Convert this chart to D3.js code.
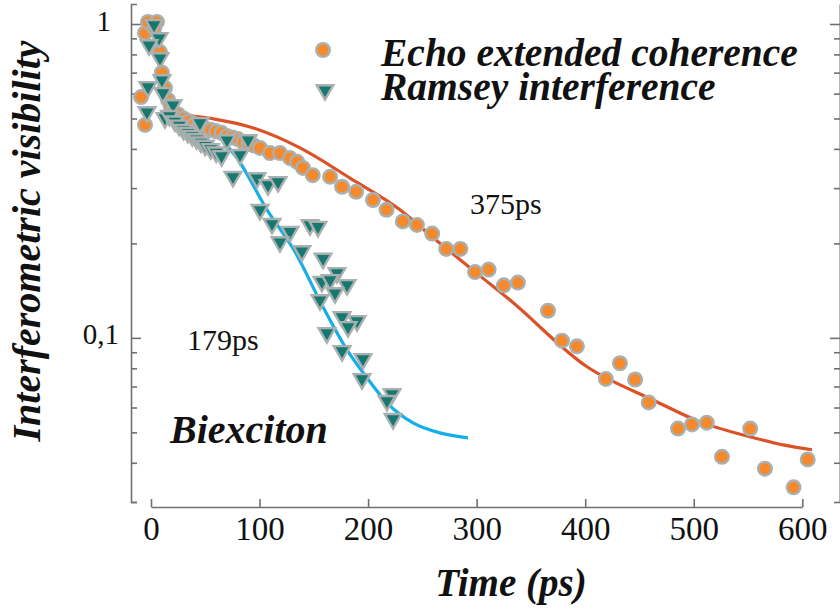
<!DOCTYPE html>
<html>
<head>
<meta charset="utf-8">
<script src="https://cdn.jsdelivr.net/npm/d3@7"></script>
<style>
  body { margin: 0; background: #fff; }
  svg text { font-family: "Liberation Serif", "Times New Roman", Times, serif !important; }
</style>
</head>
<body>
<script>
// echo extended coherence (orange circles)
const echoTime = [-5.5, -9.2, -5.5, -2.8, 5.5, 8.3, 12.9, 15.7, 3, 10, 18,
  20, 25, 30, 35, 40, 45, 50, 55, 60, 65, 70, 75, 80, 85, 90, 95,
  100.4, 109.6, 118.8, 128, 134.5, 140, 149, 165, 176, 189, 204.5, 217, 232, 245, 259,
  272, 285, 298.5, 311, 325, 338, 365.7, 378.6, 392.4, 419, 432, 446, 458.5,
  485.5, 498.4, 512, 526, 552, 565.6, 592, 605];
const echoVis = [0.936, 0.585, 0.477, 1.015, 1.015, 0.814, 0.626, 0.573, 0.97, 0.70, 0.55,
  0.53, 0.515, 0.50, 0.49, 0.48, 0.475, 0.465, 0.46, 0.455, 0.45, 0.44, 0.435, 0.43, 0.42, 0.415, 0.41,
  0.403, 0.388, 0.388, 0.374, 0.364, 0.348, 0.330, 0.326, 0.303, 0.292, 0.275, 0.256, 0.235, 0.229, 0.215,
  0.192, 0.192, 0.162, 0.165, 0.147, 0.150, 0.122, 0.098, 0.094, 0.074, 0.083, 0.0737, 0.0623,
  0.0514, 0.053, 0.0537, 0.0418, 0.0514, 0.0383, 0.0334, 0.0410];

// ramsey interference (teal triangles)
const ramseyTime = [2.8, 7.4, -1.8, 8.3, 10.1, -2.8, 11, 20.3, -3.7, 12.9,
  17, 22, 26, 30, 34, 38, 42, 46, 50, 55, 60, 65, 45.1, 70, 89.4, 82, 75.5, 97.6, 107.8, 117,
  100.4, 111.5, 128, 118.8, 139, 146.5, 153.8, 158.5, 171.3, 157.5, 180.6, 165, 169.5,
  155.7, 176, 189.8, 181.5, 162, 176, 195.3, 194.4, 222, 217.4, 223];
const ramseyVis = [0.993, 0.902, 0.857, 0.779, 0.663, 0.630, 0.603, 0.552, 0.524, 0.502,
  0.51, 0.49, 0.475, 0.46, 0.45, 0.44, 0.43, 0.42, 0.41, 0.40, 0.39, 0.38, 0.484, 0.427, 0.427, 0.383, 0.326, 0.323, 0.307, 0.314,
  0.256, 0.231, 0.218, 0.202, 0.189, 0.229, 0.226, 0.179, 0.161, 0.151, 0.1475, 0.153, 0.139,
  0.132, 0.1166, 0.1132, 0.1084, 0.1037, 0.0909, 0.0857, 0.074, 0.0663, 0.063, 0.0552];

// fitted curves
const echoFitTime = [31.3, 60, 91.2, 137.3, 183.3, 229.4, 258.9, 303.1, 330.7, 401.7, 462.5, 505.8, 551.8, 582.2, 608.9];
const echoFitVis = [0.513, 0.497, 0.470, 0.403, 0.323, 0.256, 0.210, 0.1576, 0.132, 0.0809, 0.0634, 0.0540, 0.0484, 0.0456, 0.0440];
const ramseyFitTime = [34.1, 54.4, 79.2, 106.9, 131.7, 158.5, 180.6, 199, 217.4, 241.4, 266.2, 292];
const ramseyFitVis = [0.4945, 0.4597, 0.3743, 0.2557, 0.1906, 0.1255, 0.0916, 0.0746, 0.0621, 0.0536, 0.0498, 0.0480];

const xTicks = [0, 100, 200, 300, 400, 500, 600];
const yMajor = [0.1, 1];
const yMinor = [0.03, 0.04, 0.05, 0.06, 0.07, 0.08, 0.09, 0.2, 0.3, 0.4, 0.5, 0.6, 0.7, 0.8, 0.9];

const width = 840;
const height = 613;

const svg = d3.select('body').append('svg')
  .attr('width', width)
  .attr('height', height);

const x = d3.scaleLinear().domain([0, 600]).range([151, 802.3]);
const y = d3.scaleLog().domain([0.03, 1.158]).range([502, 4]);

const axisColor = '#707070';

// left axis
svg.append('g').attr('transform', 'translate(131,0)')
  .call(d3.axisLeft(y).tickValues(yMinor).tickSize(-6).tickSizeOuter(-6).tickFormat(''));
const leftMajor = svg.append('g').attr('transform', 'translate(131,0)')
  .call(d3.axisLeft(y).tickValues(yMajor).tickSize(-10).tickSizeOuter(0).tickFormat(''));
leftMajor.select('.domain').remove();

// right axis, only ticks visible
svg.append('g').attr('transform', 'translate(840,0)')
  .call(d3.axisRight(y).tickValues(yMinor).tickSize(-6).tickSizeOuter(0).tickFormat(''));
svg.append('g').attr('transform', 'translate(840,0)')
  .call(d3.axisRight(y).tickValues(yMajor).tickSize(-10).tickSizeOuter(0).tickFormat(''));

// bottom axis
const bottom = svg.append('g').attr('transform', 'translate(0,507)')
  .call(d3.axisBottom(x).tickValues(xTicks).tickSize(-8).tickSizeOuter(0).tickPadding(10));
bottom.selectAll('text')
  .attr('font-size', 33)
  .attr('fill', '#111');

svg.selectAll('.domain, .tick line')
  .attr('stroke', axisColor)
  .attr('stroke-width', 1.6);

// y labels
svg.append('text').attr('x', 111).attr('y', y(1) + 7).attr('text-anchor', 'end')
  .attr('font-size', 29).attr('fill', '#111').text('1');
svg.append('text').attr('x', 119).attr('y', y(0.1) + 6).attr('text-anchor', 'end')
  .attr('font-size', 29).attr('fill', '#111').text('0,1');

// fits
const fitLine = d3.line()
  .x((d) => x(d[0]))
  .y((d) => y(d[1]))
  .curve(d3.curveMonotoneX);

svg.append('path')
  .datum(echoFitTime.map((t, i) => [t, echoFitVis[i]]))
  .attr('d', fitLine)
  .attr('fill', 'none')
  .attr('stroke', '#dc5227')
  .attr('stroke-width', 3.2);

svg.append('path')
  .datum(ramseyFitTime.map((t, i) => [t, ramseyFitVis[i]]))
  .attr('d', fitLine)
  .attr('fill', 'none')
  .attr('stroke', '#15aee8')
  .attr('stroke-width', 3.2);

// markers
const markerStroke = '#aab0b0';
const tri = d3.symbol().type(d3.symbolTriangle).size(120);

svg.append('g')
  .selectAll('circle')
  .data(echoTime.map((t, i) => [t, echoVis[i]]))
  .enter()
  .append('circle')
  .attr('cx', (d) => x(d[0]))
  .attr('cy', (d) => y(d[1]))
  .attr('r', 6.8)
  .attr('fill', '#f5892c')
  .attr('stroke', markerStroke)
  .attr('stroke-width', 2.4);

svg.append('g')
  .selectAll('path')
  .data(ramseyTime.map((t, i) => [t, ramseyVis[i]]))
  .enter()
  .append('path')
  .attr('d', tri)
  .attr('transform', (d) => `translate(${x(d[0])},${y(d[1])}) rotate(180)`)
  .attr('fill', '#17786f')
  .attr('stroke', markerStroke)
  .attr('stroke-width', 2.4);

// legend
svg.append('circle').attr('cx', 323).attr('cy', 50).attr('r', 6.8)
  .attr('fill', '#f5892c').attr('stroke', markerStroke).attr('stroke-width', 2.4);
svg.append('path').attr('d', tri)
  .attr('transform', 'translate(325,90) rotate(180)')
  .attr('fill', '#17786f').attr('stroke', markerStroke).attr('stroke-width', 2.4);

const biStyle = (sel, size) => sel
  .attr('font-size', size)
  .attr('font-weight', 'bold')
  .attr('font-style', 'italic')
  .attr('fill', '#111');

biStyle(svg.append('text').attr('x', 381).attr('y', 66), 39.5).text('Echo extended coherence');
biStyle(svg.append('text').attr('x', 381).attr('y', 100), 39.5).text('Ramsey interference');

// annotations
svg.append('text').attr('x', 470).attr('y', 214).attr('font-size', 30).attr('fill', '#111').text('375ps');
svg.append('text').attr('x', 187).attr('y', 350).attr('font-size', 30).attr('fill', '#111').text('179ps');
biStyle(svg.append('text').attr('x', 170).attr('y', 443), 40).text('Biexciton');

// axis titles
biStyle(svg.append('text').attr('x', 511).attr('y', 596).attr('text-anchor', 'middle'), 39).text('Time (ps)');
biStyle(svg.append('text').attr('transform', 'translate(40,241) rotate(-90)').attr('text-anchor', 'middle'), 40)
  .text('Interferometric visibility');
</script>
</body>
</html>
